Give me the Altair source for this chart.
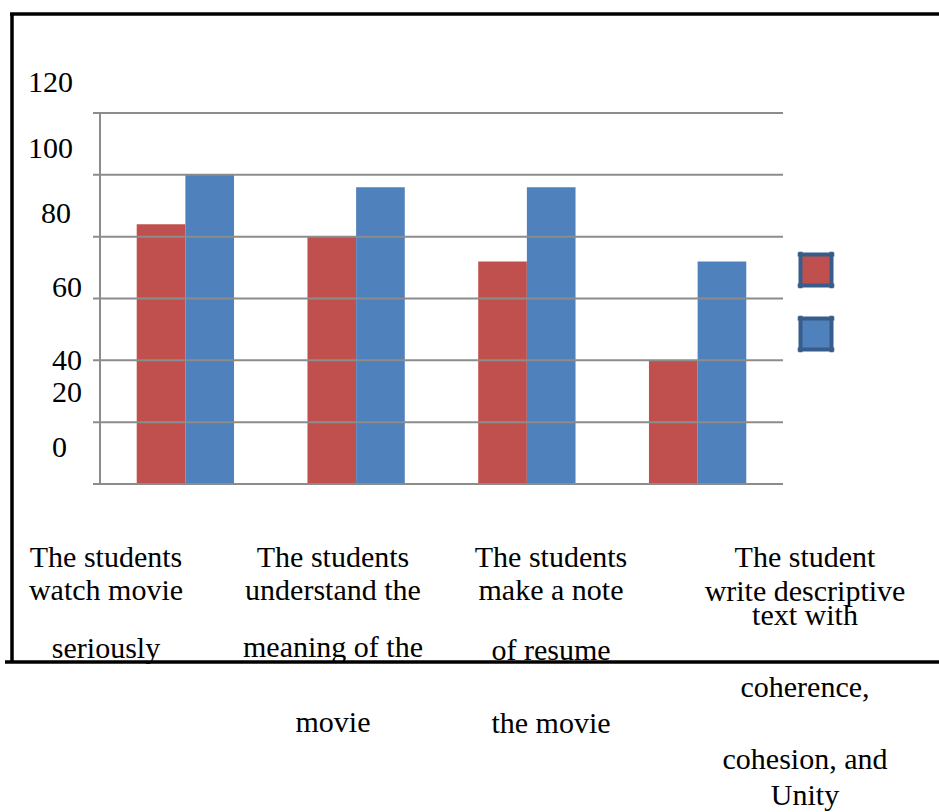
import altair as alt
import pandas as pd

# ---- data -----------------------------------------------------------------
CATEGORIES = [
    "The students watch movie seriously",
    "The students understand the meaning of the movie",
    "The students make a note of resume the movie",
    "The student write descriptive text with coherence, cohesion, and Unity",
]
LABEL_LINES = [
    ["The students", "watch movie", "seriously"],
    ["The students", "understand the", "meaning of the", "movie"],
    ["The students", "make a note", "of resume", "the movie"],
    ["The student", "write descriptive", "text with", "coherence,", "cohesion, and", "Unity"],
]
SERIES = ["Series 1", "Series 2"]
SERIES_1 = [84, 80, 72, 40]
SERIES_2 = [100, 96, 96, 72]
Y_TICKS = [0, 20, 40, 60, 80, 100, 120]

COLORS = ["#C0504D", "#4F81BD"]
GRID = "#8c8c8c"
FONT = "Liberation Serif"
FS = 30

# plot area placement inside the 939x812 page
LEFT, TOP, W, H = 100, 113, 683, 371

bars_df = pd.DataFrame(
    [{"category": c, "series": SERIES[0], "value": v} for c, v in zip(CATEGORIES, SERIES_1)]
    + [{"category": c, "series": SERIES[1], "value": v} for c, v in zip(CATEGORIES, SERIES_2)]
)

color = alt.Color("series:N", scale=alt.Scale(domain=SERIES, range=COLORS), legend=None)
yscale = alt.Scale(domain=[0, 120], nice=False)

bars = alt.Chart(bars_df).mark_bar().encode(
    x=alt.X("category:N", sort=CATEGORIES, axis=None,
            scale=alt.Scale(paddingInner=0.43, paddingOuter=0.215)),
    xOffset=alt.XOffset("series:N", sort=SERIES),
    y=alt.Y("value:Q", scale=yscale, axis=None),
    color=color,
)

# value axis: gridlines over the bars, short ticks on the left, vertical axis line
tick_df = pd.DataFrame({"tick": Y_TICKS})
grid = alt.Chart(tick_df).mark_rule(color=GRID, strokeWidth=2).encode(
    x=alt.value(-7), x2=alt.value(W), y=alt.Y("tick:Q", scale=yscale, axis=None))
y_domain = alt.Chart(pd.DataFrame({"k": [0]})).mark_rule(color=GRID, strokeWidth=2).encode(
    x=alt.value(0), y=alt.value(0), y2=alt.value(H))

# y tick labels, each with its own nudge (left x, baseline shift) in pixels
tick_nudge = {
    120: (-72, -21), 100: (-72, -17), 80: (-59, -14),
    60: (-48, -2), 40: (-48, 10), 20: (-48, -20), 0: (-48, -27),
}
tick_layers = []
for t in Y_TICKS:
    dx, dy = tick_nudge[t]
    tick_layers.append(
        alt.Chart(tick_df).transform_filter(alt.datum.tick == t)
        .mark_text(align="left", baseline="alphabetic", font=FONT, fontSize=FS,
                   color="black", dy=dy)
        .encode(x=alt.value(dx), y=alt.Y("tick:Q", scale=yscale, axis=None),
                text=alt.Text("tick:Q"))
    )

# category captions: centre x and line baselines on the page
caption_layout = [
    (106, [567, 600, 658]),
    (333, [567, 600, 657, 732]),
    (551, [567, 600, 660, 733]),
    (805, [567, 601, 625, 697, 769, 805]),
]
cap_rows = []
for lines, (cx, ys) in zip(LABEL_LINES, caption_layout):
    for line, yb in zip(lines, ys):
        cap_rows.append({"text": line, "px": cx - LEFT, "py": yb - TOP})
captions = alt.Chart(pd.DataFrame(cap_rows)).mark_text(
    align="center", baseline="alphabetic", font=FONT, fontSize=FS, color="black"
).encode(
    x=alt.X("px:Q", scale=None, axis=None),
    y=alt.Y("py:Q", scale=None, axis=None),
    text="text:N",
)

# frame around the chart (left, top and bottom edges)
one = pd.DataFrame({"k": [0]})
frame_top = alt.Chart(one).mark_rule(color="black", strokeWidth=3.5).encode(
    x=alt.value(10 - LEFT), x2=alt.value(939 - LEFT), y=alt.value(14 - TOP))
frame_left = alt.Chart(one).mark_rule(color="black", strokeWidth=3.5).encode(
    x=alt.value(12 - LEFT), y=alt.value(13 - TOP), y2=alt.value(663 - TOP))
frame_bottom = alt.Chart(one).mark_rule(color="black", strokeWidth=3.5).encode(
    x=alt.value(5 - LEFT), x2=alt.value(939 - LEFT), y=alt.value(662 - TOP))

# legend swatches (no labels)
SWATCH = "M-1,-1H1V1H-1Z M-1.18,-1H1.18 M-1.18,1H1.18 M-1,-1.18V1.18 M1,-1.18V1.18"
legend_df = pd.DataFrame({"series": SERIES})
swatch_y = [270, 334]
swatches = []
for s, yy in zip(SERIES, swatch_y):
    swatches.append(
        alt.Chart(legend_df).transform_filter(alt.datum.series == s)
        .mark_point(shape=SWATCH, size=961, filled=True, opacity=1,
                    stroke="#385D8A", strokeWidth=4)
        .encode(x=alt.value(816 - LEFT), y=alt.value(yy - TOP), color=color)
    )

chart = alt.layer(
    bars, grid, y_domain, *tick_layers, captions,
    frame_top, frame_left, frame_bottom, *swatches
).properties(
    width=W, height=H,
    padding={"left": LEFT, "top": TOP, "right": 939 - LEFT - W, "bottom": 812 - TOP - H},
    autosize=alt.AutoSizeParams(type="none"),
    background="white",
).configure_view(stroke=None)

chart.save("out.html", embed_options={"renderer": "svg", "actions": False})
